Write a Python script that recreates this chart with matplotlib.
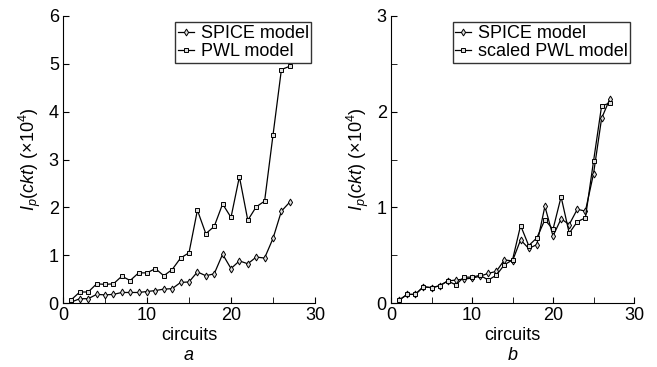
import numpy as np
import matplotlib.pyplot as plt
from matplotlib.ticker import MultipleLocator

plt.rcParams['font.family'] = ['Liberation Sans', 'DejaVu Sans']
plt.rcParams['mathtext.fontset'] = 'custom'
plt.rcParams['mathtext.rm'] = 'Liberation Sans'
plt.rcParams['mathtext.it'] = 'Liberation Sans:italic'

circuits = np.arange(1, 28)

spice_a = [0.02, 0.09, 0.09, 0.18, 0.17, 0.18, 0.22, 0.22, 0.22, 0.24, 0.26, 0.29, 0.30, 0.43,
           0.44, 0.65, 0.57, 0.61, 1.02, 0.72, 0.88, 0.82, 0.96, 0.94, 1.35, 1.92, 2.11]
pwl_a = [0.07, 0.23, 0.23, 0.40, 0.39, 0.40, 0.56, 0.47, 0.63, 0.63, 0.72, 0.57, 0.70, 0.94,
         1.05, 1.94, 1.45, 1.60, 2.07, 1.79, 2.64, 1.73, 2.01, 2.13, 3.51, 4.88, 4.95]

spice_b = [0.03, 0.09, 0.09, 0.17, 0.16, 0.18, 0.23, 0.24, 0.25, 0.26, 0.28, 0.31, 0.33, 0.45,
           0.44, 0.66, 0.57, 0.61, 1.01, 0.70, 0.88, 0.82, 0.98, 0.96, 1.35, 1.93, 2.13]
scaled_pwl_b = [0.03, 0.09, 0.09, 0.17, 0.16, 0.18, 0.23, 0.19, 0.27, 0.27, 0.29, 0.24, 0.29, 0.40,
                0.45, 0.81, 0.60, 0.68, 0.87, 0.77, 1.11, 0.73, 0.85, 0.89, 1.48, 2.06, 2.09]

fig = plt.figure(figsize=(6.57, 3.67), dpi=100)
W, H = 657, 367
ax_a = fig.add_axes([63 / W, 1 - 303 / H, (315 - 63) / W, (303 - 16) / H])
ax_b = fig.add_axes([391 / W, 1 - 303 / H, (634 - 391) / W, (303 - 16) / H])

panels = [
    (ax_a, spice_a, pwl_a, 'PWL model', 6, 1, 'a'),
    (ax_b, spice_b, scaled_pwl_b, 'scaled PWL model', 3, 0.5, 'b'),
]

for ax, spice, pwl, pwl_name, ymax, yminor, letter in panels:
    ax.plot(circuits, spice, color='black', lw=0.9, marker='d', ms=3.5,
            mfc='#dddddd', mec='black', mew=0.7, label='SPICE model')
    ax.plot(circuits, pwl, color='black', lw=0.9, marker='s', ms=2.8,
            mfc='#dddddd', mec='black', mew=0.7, label=pwl_name)
    ax.set_xlim(0, 30)
    ax.set_ylim(0, ymax)
    ax.xaxis.set_major_locator(MultipleLocator(10))
    ax.xaxis.set_minor_locator(MultipleLocator(5))
    ax.yaxis.set_major_locator(MultipleLocator(1))
    ax.yaxis.set_minor_locator(MultipleLocator(yminor))
    ax.tick_params(which='both', direction='in', labelsize=13, pad=3)
    ax.tick_params(which='major', length=4)
    ax.tick_params(which='minor', length=4)
    ax.spines['top'].set_visible(False)
    ax.spines['right'].set_visible(False)
    ax.set_xlabel('circuits', fontsize=13, labelpad=2)
    ax.set_ylabel(r'$I_p(ckt)$ (×10$^4$)', fontsize=13, labelpad=4)
    ax.text(0.5, -0.155, letter, transform=ax.transAxes, ha='center', va='top',
            fontsize=13, style='italic')
    leg = ax.legend(loc='upper right', fontsize=13, frameon=True, fancybox=False,
                    edgecolor='black', handlelength=0.9, handletextpad=0.35,
                    borderpad=0.15, labelspacing=0.05, borderaxespad=0.2,
                    bbox_to_anchor=(1.0, 0.99))
    leg.get_frame().set_linewidth(1.0)

fig.savefig('out.png', dpi=100)
